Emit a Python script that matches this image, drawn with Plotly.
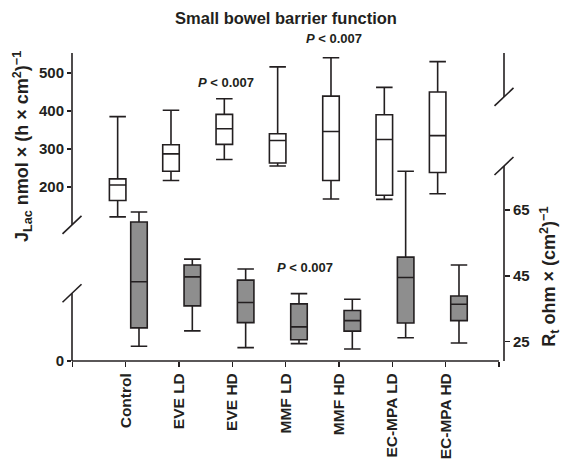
import plotly.graph_objects as go

# ---------------- data ----------------
categories = ["Control", "EVE LD", "EVE HD", "MMF LD", "MMF HD", "EC-MPA LD", "EC-MPA HD"]

# J_Lac (left axis, white boxes)
jlac_low = [121, 217, 272, 255, 168, 167, 182]
jlac_q1 = [164, 241, 312, 263, 217, 178, 238]
jlac_med = [205, 287, 353, 322, 346, 325, 335]
jlac_q3 = [221, 311, 391, 340, 439, 390, 450]
jlac_high = [385, 402, 432, 516, 540, 462, 530]

# R_t (right axis, grey boxes)
rt_low = [23.6, 28.3, 23.2, 24.4, 22.8, 26.2, 24.6]
rt_q1 = [29.2, 35.9, 30.8, 25.6, 28.2, 30.7, 31.4]
rt_med = [43.2, 44.7, 36.9, 29.5, 31.4, 44.5, 36.4]
rt_q3 = [61.4, 48.3, 43.7, 36.5, 34.5, 50.7, 38.9]
rt_high = [64.4, 50.1, 47.1, 39.6, 37.9, 76.8, 48.3]

left_ticks = [200, 300, 400, 500]
right_ticks = [25, 45, 65]

# ---------------- styling ----------------
FONT = "Liberation Sans, Arial, Helvetica, sans-serif"
INK = "#231f20"
GREY = "#8e8e8e"
LW = 1.6

X_RANGE = [-1.006, 7.094]
Y_RANGE = [-258.5, 552.6]      # left axis (broken; "0" drawn at bottom)
Y2_RANGE = [19.13, 112.75]     # right axis (broken at top)
ZERO_POS = Y_RANGE[0] + 0.6
LEFT_BREAK_HI, LEFT_BREAK_LO = 100, -80
RIGHT_BREAK_HI, RIGHT_BREAK_LO = 99.4, 78.4

W, H = 561, 467

idx = list(range(len(categories)))
white_x = [i - 0.15 for i in idx]
grey_x = [i + 0.25 for i in idx]

fig = go.Figure()
fig.add_trace(go.Box(
    x=white_x, q1=jlac_q1, median=jlac_med, q3=jlac_q3,
    lowerfence=jlac_low, upperfence=jlac_high,
    width=0.31, whiskerwidth=1, fillcolor="white",
    line=dict(color=INK, width=LW), boxpoints=False,
    yaxis="y", showlegend=False, hoverinfo="skip"))
fig.add_trace(go.Box(
    x=grey_x, q1=rt_q1, median=rt_med, q3=rt_q3,
    lowerfence=rt_low, upperfence=rt_high,
    width=0.31, whiskerwidth=1, fillcolor=GREY,
    line=dict(color=INK, width=LW), boxpoints=False,
    yaxis="y2", showlegend=False, hoverinfo="skip"))

ytickfont = dict(family=FONT, size=15, color=INK, weight="bold")
xtickfont = dict(family=FONT, size=15.5, color=INK, weight="bold")

shapes = []
line = dict(color=INK, width=LW)
# x axis line
shapes.append(dict(type="line", xref="x", yref="paper", x0=X_RANGE[0], x1=len(categories), y0=0, y1=0, line=line))
# left axis segments
shapes.append(dict(type="line", xref="paper", yref="y", x0=0, x1=0, y0=LEFT_BREAK_HI, y1=Y_RANGE[1], line=line))
shapes.append(dict(type="line", xref="paper", yref="y", x0=0, x1=0, y0=Y_RANGE[0], y1=LEFT_BREAK_LO, line=line))
# right axis segments
shapes.append(dict(type="line", xref="paper", yref="y2", x0=1, x1=1, y0=RIGHT_BREAK_HI, y1=Y2_RANGE[1], line=line))
shapes.append(dict(type="line", xref="paper", yref="y2", x0=1, x1=1, y0=Y2_RANGE[0], y1=RIGHT_BREAK_LO, line=line))
# break slashes
for xa, ya, yv in [(0, "y", LEFT_BREAK_HI), (0, "y", LEFT_BREAK_LO),
                   (1, "y2", RIGHT_BREAK_HI), (1, "y2", RIGHT_BREAK_LO)]:
    shapes.append(dict(type="line", xref="paper", yref=ya,
                       xsizemode="pixel", ysizemode="pixel",
                       xanchor=xa, yanchor=yv,
                       x0=-9.5, x1=9.5, y0=-9, y1=9, line=line))

pfont = dict(family=FONT, size=13, color=INK, weight="bold")
ptxt = "<i>P</i> &lt; 0.007"
annotations = [
    dict(text=ptxt, x=1.89, y=476, xref="x", yref="y", showarrow=False, font=pfont,
         xanchor="center", yanchor="middle"),
    dict(text=ptxt, x=3.9, y=1.0487, xref="x", yref="paper", showarrow=False, font=pfont,
         xanchor="center", yanchor="middle"),
    dict(text=ptxt, x=3.37, y=47.7, xref="x", yref="y2", showarrow=False, font=pfont,
         xanchor="center", yanchor="middle"),
    dict(text="J<sub>Lac</sub> nmol × (h × cm<sup>2</sup>)<sup>−1</sup>",
         x=-0.116, y=0.698, xref="paper", yref="paper", textangle=-90, showarrow=False,
         xanchor="center", yanchor="middle",
         font=dict(family=FONT, size=18, color=INK, weight="bold")),
    dict(text="R<sub>t</sub> ohm × (cm<sup>2</sup>)<sup>−1</sup>",
         x=1.106, y=0.273, xref="paper", yref="paper", textangle=-90, showarrow=False,
         xanchor="center", yanchor="middle",
         font=dict(family=FONT, size=18, color=INK, weight="bold")),
]

fig.update_layout(
    width=W, height=H,
    margin=dict(l=72, r=57, t=53, b=106, autoexpand=False),
    paper_bgcolor="white", plot_bgcolor="white",
    hovermode=False,
    title=dict(text="Small bowel barrier function", x=286 / W, xanchor="center",
               y=1 - 18 / H, yanchor="middle", automargin=False,
               font=dict(family=FONT, size=16.5, color=INK, weight="bold")),
    xaxis=dict(range=X_RANGE, tickmode="array", automargin=False,
               tickvals=[-1] + idx + [len(categories)],
               ticktext=[""] + categories + [""],
               tickangle=-90, ticks="outside", ticklen=5, tickwidth=LW, tickcolor=INK,
               showline=False, showgrid=False, zeroline=False, tickfont=xtickfont),
    yaxis=dict(range=Y_RANGE, tickmode="array", automargin=False,
               tickvals=[ZERO_POS] + left_ticks,
               ticktext=["0"] + [str(t) for t in left_ticks],
               ticks="outside", ticklen=4, tickwidth=LW, tickcolor=INK,
               showline=False, showgrid=False, zeroline=False, tickfont=ytickfont),
    yaxis2=dict(range=Y2_RANGE, overlaying="y", side="right", tickmode="array", automargin=False,
                tickvals=right_ticks, ticktext=[str(t) for t in right_ticks],
                ticks="outside", ticklen=5, tickwidth=LW, tickcolor=INK,
                showline=False, showgrid=False, zeroline=False, tickfont=ytickfont),
    shapes=shapes, annotations=annotations,
    font=dict(family=FONT, color=INK),
)

fig.write_html("out.html", config={"displayModeBar": False, "staticPlot": True},
               post_script="document.body.style.margin='0';document.body.style.overflow='hidden';")
